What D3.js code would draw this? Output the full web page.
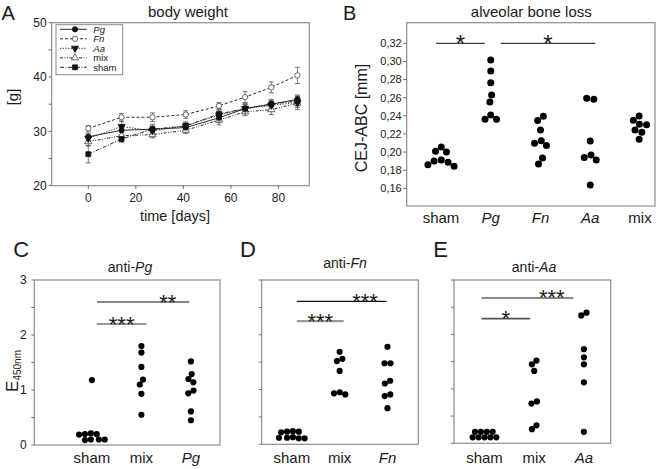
<!DOCTYPE html>
<html>
<head>
<meta charset="utf-8">
<script src="https://cdn.jsdelivr.net/npm/d3@7"></script>
<style>
  html, body { margin: 0; padding: 0; background: #fff; }
  svg { display: block; font-family: "Liberation Sans", Arial, sans-serif; }
</style>
</head>
<body>
<svg id="chart" width="660" height="469"></svg>
<script>
// ---------------- DATA ----------------
// Panel A: body weight
const days = [0, 14, 27, 41, 55, 66, 77, 88];
const bwSeries = ["Pg", "Fn", "Aa", "mix", "sham"];
const bwPg   = [29.0, 30.2, 30.4, 30.7, 32.5, 34.2, 35.0, 35.9];
const bwFn   = [30.55, 32.6, 32.6, 33.1, 34.7, 36.3, 38.1, 40.3];
const bwAa   = [28.7, 30.9, 30.1, 31.0, 33.0, 34.2, 34.8, 35.3];
const bwMix  = [28.1, 29.2, 29.4, 30.2, 32.1, 33.6, 34.0, 35.2];
const bwSham = [25.8, 28.6, 30.4, 31.0, 33.2, 34.2, 35.0, 35.6];
const errPg   = [0.7, 0.8, 0.6, 0.5, 0.9, 0.8, 0.9, 0.8];
const errFn   = [0.5, 0.7, 0.8, 0.7, 0.6, 1.0, 1.0, 1.5];
const errAa   = [0.8, 0.9, 0.8, 0.7, 0.9, 0.9, 0.8, 0.9];
const errMix  = [0.8, 0.7, 0.6, 0.6, 0.9, 0.7, 0.9, 1.2];
const errSham = [1.6, 0.6, 0.9, 0.7, 0.9, 0.7, 0.7, 0.9];
const bwYTicks = [20, 30, 40, 50];
const bwYMinor = [25, 35, 45];
const bwXTicks = [0, 20, 40, 60, 80];

// Panel B: alveolar bone loss (CEJ-ABC, mm)
const boneCats = ["sham", "Pg", "Fn", "Aa", "mix"];
const boneSham = [0.2056, 0.2008, 0.2001, 0.1913, 0.190, 0.1887, 0.186, 0.1843];
const bonePg   = [0.3016, 0.2895, 0.2766, 0.263, 0.2553, 0.2409, 0.2361, 0.2361];
const boneFn   = [0.2395, 0.2347, 0.2244, 0.2126, 0.2097, 0.2071, 0.1935, 0.1869];
const boneAa   = [0.2582, 0.2593, 0.2122, 0.1967, 0.194, 0.1912, 0.1637];
const boneMix  = [0.2398, 0.235, 0.2306, 0.2302, 0.2243, 0.2218, 0.2141];
const boneTicks = [0.16, 0.18, 0.20, 0.22, 0.24, 0.26, 0.28, 0.30, 0.32];
const sigB = [["sham", "Pg", "*", 0.32], ["Pg", "Aa", "*", 0.32]];

// Panels C-E: antibody titres (E450nm)
const pgCats = ["sham", "mix", "Pg"];
const antiPgSham = [0.21, 0.2, 0.2, 0.19, 0.1, 0.09, 0.1, 0.1, 1.18];
const antiPgMix  = [1.8, 1.68, 1.42, 1.19, 1.1, 0.93, 0.55];
const antiPgPg   = [1.52, 1.29, 1.2, 1.14, 0.99, 0.94, 0.61, 0.45];
const sigC = [["sham", "Pg", "**", 2.6], ["sham", "mix", "***", 2.2]];

const fnCats = ["sham", "mix", "Fn"];
const antiFnSham = [0.24, 0.23, 0.23, 0.22, 0.13, 0.12, 0.11, 0.11, 0.12];
const antiFnMix  = [1.69, 1.56, 1.52, 1.34, 0.95, 0.93, 0.91];
const antiFnFn   = [1.78, 1.48, 1.48, 1.16, 1.11, 0.91, 0.88, 0.66];
const sigD = [["sham", "Fn", "***", 2.61], ["sham", "mix", "***", 2.25]];

const aaCats = ["sham", "mix", "Aa"];
const antiAaSham = [0.21, 0.21, 0.21, 0.21, 0.11, 0.11, 0.11, 0.11, 0.11];
const antiAaMix  = [1.52, 1.45, 1.33, 0.77, 0.73, 0.33, 0.26];
const antiAaAa   = [2.4, 2.35, 1.73, 1.58, 1.45, 1.12, 0.21];
const sigE = [["sham", "Aa", "***", 2.67], ["sham", "mix", "*", 2.29]];

const elisaTicks = [0, 0.5, 1, 1.5, 2, 2.5, 3];
const italicNames = ["Pg", "Fn", "Aa"];

// ---------------- DRAWING ----------------
const svg = d3.select("#chart");
const FRAME = "#8c8c8c";
const TXT = "#1a1a1a";

function text(g, x, y, str, size, opts = {}) {
  const t = g.append("text").attr("x", x).attr("y", y).attr("font-size", size)
    .attr("fill", TXT).text(str);
  if (opts.anchor) t.attr("text-anchor", opts.anchor);
  if (opts.italic) t.attr("font-style", "italic");
  if (opts.dy) t.attr("dy", opts.dy);
  return t;
}
function frame(g, L) {
  g.append("rect").attr("x", L.left).attr("y", L.top)
    .attr("width", L.right - L.left).attr("height", L.bottom - L.top)
    .attr("fill", "none").attr("stroke", FRAME).attr("stroke-width", 1.2);
}

// beeswarm layout
function swarm(vals, y, cx, r, gap) {
  const D = 2 * r + gap;
  const pts = [];
  vals.forEach(v => {
    const py = y(v);
    const blocks = pts.filter(p => Math.abs(p.y - py) < D).map(p => {
      const h = Math.sqrt(D * D - (p.y - py) ** 2);
      return [p.dx - h, p.dx + h];
    });
    const cands = [0].concat(...blocks).sort((a, b) => Math.abs(a) - Math.abs(b));
    const dx = cands.find(c => blocks.every(([a, b]) => c <= a + 1e-6 || c >= b - 1e-6));
    pts.push({ v, y: py, dx });
  });
  const n = pts.length, comp = new Array(n).fill(-1);
  let k = 0;
  for (let i = 0; i < n; i++) {
    if (comp[i] >= 0) continue;
    const st = [i]; comp[i] = k;
    while (st.length) {
      const a = st.pop();
      for (let j = 0; j < n; j++) {
        if (comp[j] < 0 && Math.hypot(pts[j].dx - pts[a].dx, pts[j].y - pts[a].y) < D + 0.6) {
          comp[j] = k; st.push(j);
        }
      }
    }
    k++;
  }
  for (let c = 0; c < k; c++) {
    const m = pts.filter((p, i) => comp[i] === c);
    const mid = (d3.min(m, p => p.dx) + d3.max(m, p => p.dx)) / 2;
    m.forEach(p => p.dx -= mid);
  }
  return pts.map(p => ({ x: cx + p.dx, y: p.y }));
}

// ===== Panel A =====
(function () {
  const L = { left: 51.7, right: 309.3, top: 22.7, bottom: 185.7 };
  const g = svg.append("g");
  const x = d3.scaleLinear().domain([-15.4, 93]).range([L.left, L.right]);
  const y = d3.scaleLinear().domain([20, 50]).range([L.bottom, L.top]);
  frame(g, L);

  bwYTicks.forEach(t => {
    g.append("line").attr("x1", L.left - 3).attr("x2", L.left).attr("y1", y(t)).attr("y2", y(t)).attr("stroke", "#666");
    text(g, L.left - 5, y(t), t, 12, { anchor: "end", dy: "0.35em" });
  });
  bwYMinor.forEach(t => {
    g.append("line").attr("x1", L.left - 3).attr("x2", L.left).attr("y1", y(t)).attr("y2", y(t)).attr("stroke", "#666");
  });
  bwXTicks.forEach(t => {
    g.append("line").attr("x1", x(t)).attr("x2", x(t)).attr("y1", L.bottom).attr("y2", L.bottom + 3).attr("stroke", "#666");
    text(g, x(t), 202.3, t, 12, { anchor: "middle" });
  });

  text(g, 1.5, 19.5, "A", 20);
  text(g, 188, 16.5, "body weight", 15, { anchor: "middle" });
  text(g, 0, 0, "[g]", 15, { anchor: "middle" }).attr("transform", "translate(18,97) rotate(-90)");
  text(g, 175, 220.5, "time [days]", 14.5, { anchor: "middle" });

  const series = [
    { key: "mix", vals: bwMix, err: errMix, dash: "3,1.5,1,1.5,1,1.5", marker: "triUp", fill: "#fff" },
    { key: "sham", vals: bwSham, err: errSham, dash: "4,1.5,1,1.5", marker: "square", fill: "#111" },
    { key: "Aa", vals: bwAa, err: errAa, dash: "1.2,1.5", marker: "triDown", fill: "#111" },
    { key: "Fn", vals: bwFn, err: errFn, dash: "3,2", marker: "circle", fill: "#fff" },
    { key: "Pg", vals: bwPg, err: errPg, dash: null, marker: "circle", fill: "#111" }
  ];
  const sym = {
    circle: d3.symbol().type(d3.symbolCircle).size(22),
    square: d3.symbol().type(d3.symbolSquare).size(24),
    triUp: d3.symbol().type(d3.symbolTriangle).size(22),
    triDown: d3.symbol().type(d3.symbolTriangle).size(22)
  };
  function marker(sel, s, px, py) {
    return sel.append("path").attr("d", sym[s.marker]())
      .attr("transform", `translate(${px},${py})` + (s.marker === "triDown" ? " rotate(180)" : ""))
      .attr("fill", s.fill).attr("stroke", s.fill === "#fff" ? "#444" : "#111").attr("stroke-width", 0.8);
  }
  const line = d3.line().x((d, i) => x(days[i])).y(d => y(d));
  series.forEach(s => {
    const p = g.append("path").attr("d", line(s.vals)).attr("fill", "none")
      .attr("stroke", "#2a2a2a").attr("stroke-width", 1);
    if (s.dash) p.attr("stroke-dasharray", s.dash);
  });
  series.forEach(s => {
    s.vals.forEach((v, i) => {
      const cx = x(days[i]);
      g.append("line").attr("x1", cx).attr("x2", cx).attr("y1", y(v - s.err[i])).attr("y2", y(v + s.err[i])).attr("stroke", "#555").attr("stroke-width", 0.8);
      [v - s.err[i], v + s.err[i]].forEach(e => {
        g.append("line").attr("x1", cx - 2.5).attr("x2", cx + 2.5).attr("y1", y(e)).attr("y2", y(e)).attr("stroke", "#555").attr("stroke-width", 0.8);
      });
    });
  });
  series.forEach(s => s.vals.forEach((v, i) => marker(g, s, x(days[i]), y(v))));

  const lg = g.append("g");
  lg.append("rect").attr("x", 56).attr("y", 24.7).attr("width", 66.7).attr("height", 50)
    .attr("fill", "#fff").attr("stroke", "#888").attr("stroke-width", 1);
  bwSeries.forEach((name, i) => {
    const s = series.find(d => d.key === name);
    const ly = 29.3 + i * 9.5;
    const l = lg.append("line").attr("x1", 60).attr("x2", 86.7).attr("y1", ly).attr("y2", ly)
      .attr("stroke", "#2a2a2a").attr("stroke-width", 1);
    if (s.dash) l.attr("stroke-dasharray", s.dash);
    marker(lg, s, 75, ly);
    text(lg, 93.3, ly, name, 9.5, { italic: italicNames.includes(name), dy: "0.35em" });
  });
})();

// ===== Panel B =====
(function () {
  const L = { left: 406.7, right: 655, top: 22.7, bottom: 206 };
  const g = svg.append("g");
  const y = d3.scaleLinear().domain([0.16, 0.32]).range([188.3, 43.3]);
  const x = d3.scalePoint().domain(boneCats).range([441, 640]);
  frame(g, L);
  const fmt = d3.format(".2f");
  boneTicks.forEach(t => {
    g.append("line").attr("x1", L.left - 3.5).attr("x2", L.left).attr("y1", y(t)).attr("y2", y(t)).attr("stroke", "#666");
    text(g, L.left - 5, y(t), fmt(t).replace(".", ","), 11, { anchor: "end", dy: "0.35em" });
  });
  boneCats.forEach(c => text(g, x(c), 222.5, c, 15, { anchor: "middle", italic: italicNames.includes(c) }));
  text(g, 343, 19.5, "B", 20);
  text(g, 531.3, 16.7, "alveolar bone loss", 15, { anchor: "middle" });
  text(g, 0, 0, "CEJ-ABC [mm]", 16, { anchor: "middle" }).attr("transform", "translate(367,118) rotate(-90)");

  const groups = [boneSham, bonePg, boneFn, boneAa, boneMix];
  groups.forEach((vals, i) => {
    swarm(vals, y, x(boneCats[i]), 3.5, 0.2).forEach(p => {
      g.append("circle").attr("cx", p.x).attr("cy", p.y).attr("r", 3.5).attr("fill", "#000");
    });
  });
  const insets = [[-5, -6], [10, 5]];
  sigB.forEach(([a, b, lab, v], i) => {
    const x1 = x(a) + insets[i][0], x2 = x(b) + insets[i][1];
    g.append("line").attr("x1", x1).attr("x2", x2).attr("y1", y(v)).attr("y2", y(v)).attr("stroke", "#111").attr("stroke-width", 1);
    text(g, (x1 + x2) / 2, y(v) + 9, lab, 24, { anchor: "middle" });
  });
})();

// ===== Panels C, D, E =====
function elisaPanel(cfg) {
  const L = cfg.L;
  const g = svg.append("g");
  const y = d3.scaleLinear().domain([0, 3]).range([L.bottom, L.top]);
  const x = d3.scalePoint().domain(cfg.cats).range(cfg.xr);
  frame(g, L);
  elisaTicks.forEach(t => {
    g.append("line").attr("x1", L.left - 3).attr("x2", L.left).attr("y1", y(t)).attr("y2", y(t)).attr("stroke", "#777");
    if (cfg.labels && Number.isInteger(t)) text(g, L.left - 7.5, y(t), t, 12, { anchor: "end", dy: "0.35em" });
  });
  cfg.cats.forEach(c => text(g, x(c), 463.3, c, 15, { anchor: "middle", italic: italicNames.includes(c) }));
  text(g, cfg.letterX, 256.7, cfg.letter, 22);
  const tt = text(g, cfg.titleX, cfg.titleY, "anti-", 14, { anchor: "middle" });
  tt.append("tspan").attr("font-style", "italic").text(cfg.cats[2]);

  cfg.groups.forEach((vals, i) => {
    swarm(vals, y, x(cfg.cats[i]), 3.1, -0.3).forEach(p => {
      g.append("circle").attr("cx", p.x).attr("cy", p.y).attr("r", 3.1).attr("fill", "#000");
    });
  });
  const [longS, shortS] = cfg.sig;
  const sx1 = x(shortS[0]) + cfg.ins[1][0], sx2 = x(shortS[1]) + cfg.ins[1][1];
  const lx1 = x(longS[0]) + cfg.ins[0][0], lx2 = x(longS[1]) + cfg.ins[0][1];
  g.append("line").attr("x1", lx1).attr("x2", lx2).attr("y1", y(longS[3])).attr("y2", y(longS[3]))
    .attr("stroke", cfg.longStyle[0]).attr("stroke-width", cfg.longStyle[1]);
  g.append("line").attr("x1", sx1).attr("x2", sx2).attr("y1", y(shortS[3])).attr("y2", y(shortS[3]))
    .attr("stroke", cfg.shortStyle[0]).attr("stroke-width", cfg.shortStyle[1]);
  text(g, (sx2 + lx2) / 2, y(longS[3]) + 7.5, longS[2], 22, { anchor: "middle" });
  text(g, (sx1 + sx2) / 2, y(shortS[3]) + 7.5, shortS[2], 22, { anchor: "middle" });
  return g;
}

const gC = elisaPanel({
  L: { left: 34.3, right: 220, top: 280, bottom: 445 }, cats: pgCats, xr: [91.9, 190.9],
  groups: [antiPgSham, antiPgMix, antiPgPg], sig: sigC, labels: true,
  letter: "C", letterX: 13.3, titleX: 130, titleY: 272,
  ins: [[5, -1.6], [5, 5]], longStyle: ["#111", 1.2], shortStyle: ["#999", 2.2]
});
const yl = gC.append("text").attr("transform", "translate(18,371) rotate(-90)")
  .attr("text-anchor", "middle").attr("fill", TXT).attr("font-size", 17);
yl.append("tspan").text("E");
yl.append("tspan").attr("font-size", 10).attr("dy", 3).text("450nm");

elisaPanel({
  L: { left: 261.7, right: 418.3, top: 280, bottom: 444.3 }, cats: fnCats, xr: [291.8, 387.5],
  groups: [antiFnSham, antiFnMix, antiFnFn], sig: sigD, labels: false,
  letter: "D", letterX: 240, titleX: 345, titleY: 268,
  ins: [[5, -1], [5, 4]], longStyle: ["#111", 1.2], shortStyle: ["#999", 2.2]
});
elisaPanel({
  L: { left: 454, right: 610.7, top: 280, bottom: 443.3 }, cats: aaCats, xr: [484.5, 583.9],
  groups: [antiAaSham, antiAaMix, antiAaAa], sig: sigE, labels: false,
  letter: "E", letterX: 433.3, titleX: 534, titleY: 272,
  ins: [[-3, -10.6], [-3, -4]], longStyle: ["#8a8a8a", 2], shortStyle: ["#555", 1.6]
});
</script>
</body>
</html>
